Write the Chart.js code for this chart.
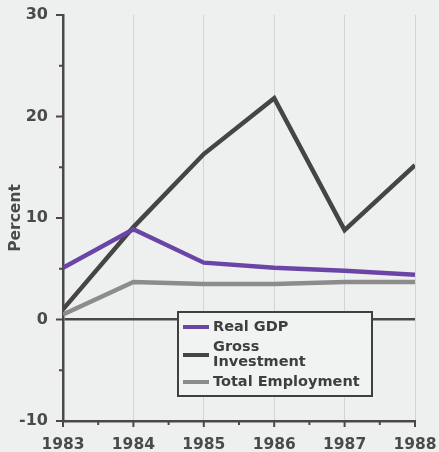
<!DOCTYPE html>
<html>
<head>
<meta charset="utf-8">
<script src="https://cdn.jsdelivr.net/npm/chart.js@4/dist/chart.umd.min.js"></script>
<style>
  html, body { margin: 0; padding: 0; background: #eef0f0; }
  #wrap { width: 439px; height: 452px; }
</style>
</head>
<body>
<div id="wrap"><canvas id="myChart"></canvas></div>
<script>
// yearly growth, percent
const years = [1983, 1984, 1985, 1986, 1987, 1988];
const realGdp = [5.1, 8.9, 5.6, 5.1, 4.8, 4.4];
const grossInvestment = [1.0, 9.1, 16.3, 21.8, 8.8, 15.2];
const totalEmployment = [0.5, 3.7, 3.5, 3.5, 3.7, 3.7];
const yTicks = [-10, 0, 10, 20, 30];

const seriesNames = ['Real GDP', ['Gross', 'Investment'], 'Total Employment'];
const seriesColors = ['#6b45a6', '#454545', '#8c8c8c'];

const bg = '#eef0f0';
const axisColor = '#4b4846';
const textColor = '#4a4a4a';
const fontFamily = '"DejaVu Sans", sans-serif';

const toPoints = (vals) => years.map((yr, i) => ({x: yr, y: vals[i]}));

// background fill
const paintBg = {
    id: 'paintBg',
    beforeDraw(chart) {
        const c = chart.ctx;
        c.save();
        c.fillStyle = bg;
        c.fillRect(0, 0, chart.width, chart.height);
        c.restore();
    },
};

// tick marks: long on labelled values, short in between
const tickMarks = {
    id: 'tickMarks',
    afterDraw(chart) {
        const c = chart.ctx;
        const area = chart.chartArea;
        const xs = chart.scales.x;
        const ys = chart.scales.y;
        c.save();
        c.strokeStyle = axisColor;
        c.lineWidth = 2;
        for (let v = -10; v <= 30; v += 5) {
            const py = ys.getPixelForValue(v);
            const len = yTicks.includes(v) ? 7 : 4;
            c.beginPath();
            c.moveTo(area.left - len, py);
            c.lineTo(area.left, py);
            c.stroke();
        }
        for (let v = 1983; v <= 1988; v += 0.5) {
            const px = xs.getPixelForValue(v);
            const len = Number.isInteger(v) ? 6 : 4;
            c.beginPath();
            c.moveTo(px, area.bottom);
            c.lineTo(px, area.bottom + len);
            c.stroke();
        }
        c.restore();
    },
};

// boxed legend sitting over the zero line
const boxLegend = {
    id: 'boxLegend',
    afterDraw(chart) {
        const c = chart.ctx;
        const left = 178, top = 312, w = 194, h = 84;
        c.save();
        c.fillStyle = '#f1f2f2';
        c.fillRect(left, top, w, h);
        c.strokeStyle = '#3f3f3f';
        c.lineWidth = 2;
        c.strokeRect(left, top, w, h);

        c.font = 'bold 14.5px ' + fontFamily;
        c.textBaseline = 'middle';
        c.fillStyle = '#3e3e3e';
        const rows = [327, 355, 382];
        chart.data.datasets.forEach((ds, i) => {
            const cy = rows[i];
            c.strokeStyle = ds.borderColor;
            c.lineWidth = 4;
            c.beginPath();
            c.moveTo(183, cy);
            c.lineTo(209, cy);
            c.stroke();
            const lines = Array.isArray(ds.label) ? ds.label : [ds.label];
            const startY = cy - (lines.length - 1) * 7.5;
            lines.forEach((t, j) => c.fillText(t, 213, startY + j * 15));
        });
        c.restore();
    },
};

new Chart('myChart', {
    type: 'line',
    data: {
        datasets: seriesNames.map((name, i) => ({
            label: name,
            data: toPoints([realGdp, grossInvestment, totalEmployment][i]),
            borderColor: seriesColors[i],
            borderWidth: 4.5,
            borderJoinStyle: 'miter',
            pointRadius: 0,
            tension: 0,
            fill: false,
        })),
    },
    options: {
        responsive: true,
        maintainAspectRatio: false,
        animation: false,
        layout: { padding: { top: 15, right: 24, left: 0, bottom: 0 } },
        plugins: {
            legend: { display: false },
            tooltip: { enabled: false },
        },
        scales: {
            x: {
                type: 'linear',
                min: 1983,
                max: 1988,
                afterFit: (s) => {
                    s.height = 31;
                    s.paddingLeft = 0;
                    s.paddingRight = 0;
                },
                border: { color: axisColor, width: 2.5 },
                grid: {
                    drawTicks: false,
                    color: (ctx) => {
                        const v = ctx.tick && ctx.tick.value;
                        return Number.isInteger(v) && v > 1983 ? '#d2d5d7' : 'rgba(0,0,0,0)';
                    },
                    lineWidth: 1,
                },
                ticks: {
                    stepSize: 0.5,
                    autoSkip: false,
                    maxRotation: 0,
                    padding: 15,
                    color: textColor,
                    font: { family: fontFamily, size: 15.5, weight: 'bold' },
                    callback: (v) => Number.isInteger(v) ? String(v) : '',
                },
            },
            y: {
                min: -10,
                max: 30,
                afterFit: (s) => {
                    s.width = 63;
                    s.paddingTop = 0;
                    s.paddingBottom = 0;
                },
                border: { color: axisColor, width: 2.5 },
                grid: {
                    drawTicks: false,
                    color: (ctx) => ctx.tick && ctx.tick.value === 0 ? '#484848' : 'rgba(0,0,0,0)',
                    lineWidth: (ctx) => ctx.tick && ctx.tick.value === 0 ? 2.5 : 0,
                },
                ticks: {
                    stepSize: 5,
                    autoSkip: false,
                    padding: 15,
                    color: textColor,
                    font: { family: fontFamily, size: 16, weight: 'bold' },
                    callback: (v) => yTicks.includes(v) ? String(v) : '',
                },
                title: {
                    display: true,
                    text: 'Percent',
                    color: textColor,
                    padding: { top: 7, bottom: 0 },
                    font: { family: fontFamily, size: 15.5, weight: 'bold' },
                },
            },
        },
    },
    plugins: [paintBg, tickMarks, boxLegend],
});
</script>
</body>
</html>
